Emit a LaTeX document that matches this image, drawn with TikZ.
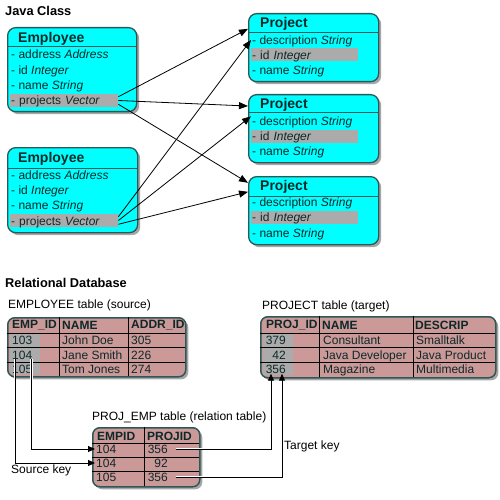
\documentclass[tikz,border=0pt]{standalone}
\usepackage{fontspec}
\setmainfont{Liberation Sans}
\usepackage{xcolor}
\usetikzlibrary{arrows.meta,shadows}
\definecolor{classfill}{HTML}{00FFFF}
\definecolor{edge}{HTML}{2E5757}
\definecolor{keygray}{HTML}{ABABAB}
\definecolor{tablefill}{HTML}{CC9999}
\definecolor{ink}{HTML}{0E2828}
\tikzstyle{classbox} = [rectangle, rounded corners=8pt, draw=edge, line width=1.3pt, fill=classfill, anchor=north west, drop shadow={shadow xshift=2.5pt, shadow yshift=-2.5pt, fill=black!35, opacity=1}]
\tikzstyle{tablebox} = [rectangle, rounded corners=7pt, draw=edge, line width=1.5pt, fill=tablefill, anchor=north west, drop shadow={shadow xshift=2.5pt, shadow yshift=-2.5pt, fill=black!35, opacity=1}]
\tikzstyle{classname} = [anchor=west, inner sep=0pt, text=ink, font=\fontsize{14}{16}\selectfont\bfseries]
\tikzstyle{attr} = [anchor=west, inner xsep=1pt, inner ysep=0pt, text height=9pt, text depth=0pt, text=ink, font=\fontsize{12}{14}\selectfont]
\tikzstyle{keyrow} = [fill=keygray, text width=106pt, minimum height=13pt]
\tikzstyle{title} = [anchor=west, inner sep=0pt, font=\fontsize{12.8}{15}\selectfont\bfseries]
\tikzstyle{caption} = [anchor=west, inner sep=0pt, font=\fontsize{12}{14}\selectfont]
\tikzstyle{colhead} = [anchor=west, inner sep=0pt, text=ink, font=\fontsize{12}{14}\selectfont\bfseries]
\tikzstyle{cell} = [anchor=west, inner sep=0pt, text height=9pt, text depth=0pt, text=ink, font=\fontsize{12}{14}\selectfont]
\tikzstyle{num} = [cell, anchor=east]
\tikzstyle{grid} = [black, line width=0.9pt]
\tikzstyle{arrow} = [-{Triangle[length=9pt,width=7pt]}, line width=0.8pt]
\tikzstyle{keyarrow} = [-{Triangle[length=7pt,width=6pt]}, line width=0.9pt, preaction={draw=white, line width=2.6pt, -, shorten >=7pt}]

\begin{document}
\begin{tikzpicture}[x=1pt, y=-1pt]
    \useasboundingbox (0,0) rectangle (500,500);

    \node (javaclass) [title] at (5,11) {Java Class};

    % employee classes
    \node (employee) [classbox, minimum width=129pt, minimum height=84pt] at (7,27) {};
    \draw [edge, line width=1pt] (employee.west |- 0,47) -- (employee.east |- 0,47);
    \node (employeename) [classname] at (18,39) {Employee};
    \node (address) [attr] at (10,54.5) {- address \textit{Address}};
    \node (id) [attr] at (10,70) {- id \textit{Integer}};
    \node (name) [attr] at (10,85) {- name \textit{String}};
    \node (projects) [attr, keyrow] at (10,100.5) {- projects \textit{Vector}};

    \node (employee2) [classbox, minimum width=130pt, minimum height=85pt] at (7,147) {};
    \draw [edge, line width=1pt] (employee2.west |- 0,168) -- (employee2.east |- 0,168);
    \node (employeename2) [classname] at (18,159) {Employee};
    \node (address2) [attr] at (10,174.5) {- address \textit{Address}};
    \node (id2) [attr] at (10,190) {- id \textit{Integer}};
    \node (name2) [attr] at (10,205) {- name \textit{String}};
    \node (projects2) [attr, keyrow] at (10,220.5) {- projects \textit{Vector}};

    % project classes
    \node (project) [classbox, minimum width=130pt, minimum height=68pt] at (248,13) {};
    \draw [edge, line width=1pt] (project.west |- 0,33) -- (project.east |- 0,33);
    \node (projectname) [classname] at (260,24) {Project};
    \node (description) [attr] at (251,40) {- description \textit{String}};
    \node (projectid) [attr, keyrow, text width=105pt] at (251,55) {- id \textit{Integer}};
    \node (projectname) [attr] at (251,70) {- name \textit{String}};

    \node (project2) [classbox, minimum width=130pt, minimum height=68pt] at (248,94) {};
    \draw [edge, line width=1pt] (project2.west |- 0,113) -- (project2.east |- 0,113);
    \node (projectname2) [classname] at (260,105) {Project};
    \node (description2) [attr] at (251,121) {- description \textit{String}};
    \node (projectid2) [attr, keyrow, text width=105pt] at (251,136) {- id \textit{Integer}};
    \node (projectname2) [attr] at (251,151) {- name \textit{String}};

    \node (project3) [classbox, minimum width=130pt, minimum height=68pt] at (248,176) {};
    \draw [edge, line width=1pt] (project3.west |- 0,196) -- (project3.east |- 0,196);
    \node (projectname3) [classname] at (260,187) {Project};
    \node (description3) [attr] at (251,202) {- description \textit{String}};
    \node (projectid3) [attr, keyrow, text width=105pt] at (251,217) {- id \textit{Integer}};
    \node (projectname3) [attr] at (251,233) {- name \textit{String}};

    \draw [arrow] (projects.4) -- (project.164);
    \draw [arrow] (projects.east) -- (project2.161);
    \draw [arrow] (projects.-4) -- (project3.157);
    \draw [arrow] (projects2.4) -- (description.west);
    \draw [arrow] (projects2.east) -- (description2.north west);
    \draw [arrow] (projects2.-4) -- (project3.164);

    \node (relational) [title] at (5,283) {Relational Database};

    % EMPLOYEE table
    \node (empcaption) [caption] at (8,305) {EMPLOYEE table (source)};
    \node (emptable) [tablebox, minimum width=178pt, minimum height=59pt] at (7,317) {};
    \fill [keygray] (10,334) rectangle (40,374);
    \draw [grid] (7,333) -- (185,333);
    \draw [grid] (7,347) -- (185,347);
    \draw [grid] (7,362) -- (185,362);
    \draw [grid] (59,317) -- (59,376);
    \draw [grid] (128,317) -- (128,376);
    \node (emphead) [colhead] at (12,325) {EMP\_ID};
    \node (namehead) [colhead] at (62,325) {NAME};
    \node (addrhead) [colhead] at (131,325) {ADDR\_ID};
    \node (empid103) [cell] at (12,340) {103};
    \node [cell] at (62,340) {John Doe};
    \node [cell] at (131,340) {305};
    \node (empid104) [cell] at (12,354.5) {104};
    \node [cell] at (62,354.5) {Jane Smith};
    \node [cell] at (131,354.5) {226};
    \node (empid105) [cell] at (12,369) {105};
    \node [cell] at (62,369) {Tom Jones};
    \node [cell] at (131,369) {274};

    % PROJECT table
    \node (projcaption) [caption] at (262,306) {PROJECT table (target)};
    \node (projtable) [tablebox, minimum width=235pt, minimum height=61pt] at (260,316) {};
    \fill [keygray] (263,334) rectangle (293,375);
    \draw [grid] (260,333) -- (495,333);
    \draw [grid] (260,347) -- (495,347);
    \draw [grid] (260,362) -- (495,362);
    \draw [grid] (319,316) -- (319,377);
    \draw [grid] (413,316) -- (413,377);
    \node (projhead) [colhead] at (266,325) {PROJ\_ID};
    \node (pnamehead) [colhead] at (322,325) {NAME};
    \node (descriphead) [colhead] at (415,325) {DESCRIP};
    \node (projid379) [num] at (286,340) {379};
    \node [cell] at (323,340) {Consultant};
    \node [cell] at (416,340) {Smalltalk};
    \node (projid42) [num] at (286,354.5) {42};
    \node [cell] at (323,354.5) {Java Developer};
    \node [cell] at (416,354.5) {Java Product};
    \node (projid356) [num] at (286,369) {356};
    \node [cell] at (323,369) {Magazine};
    \node [cell] at (416,369) {Multimedia};

    % PROJ_EMP table
    \node (relcaption) [caption] at (92,417) {PROJ\_EMP table (relation table)};
    \node (reltable) [tablebox, minimum width=107pt, minimum height=59pt] at (92,427) {};
    \draw [grid] (92,443) -- (199,443);
    \draw [grid] (92,457) -- (199,457);
    \draw [grid] (92,471) -- (199,471);
    \draw [grid] (144,427) -- (144,486);
    \node (empidhead) [colhead] at (97,436) {EMPID};
    \node (projidhead) [colhead] at (147,436) {PROJID};
    \node (relempid) [cell, inner xsep=1pt] at (95,449) {104};
    \node (relprojid) [num] at (168,449) {356};
    \node (relempid2) [cell, inner xsep=1pt] at (95,463) {104};
    \node (relprojid2) [num] at (168,463) {92};
    \node (relempid3) [cell, inner xsep=1pt] at (95,477) {105};
    \node (relprojid3) [num] at (168,477) {356};

    \node (sourcekey) [caption] at (11,470) {Source key};
    \node (targetkey) [caption] at (284,446) {Target key};

    \draw [keyarrow] ([xshift=-1pt]empid104.south east) |- (relempid.west);
    \draw [keyarrow] ([xshift=3pt]empid104.south west) |- (relempid2.west);
    \draw [keyarrow] ([xshift=8pt]relprojid.east) -| ([xshift=-15pt]projid356.south east);
    \draw [keyarrow] ([xshift=8pt]relprojid3.east) -| ([xshift=-4pt]projid356.south east);
\end{tikzpicture}
\end{document}
